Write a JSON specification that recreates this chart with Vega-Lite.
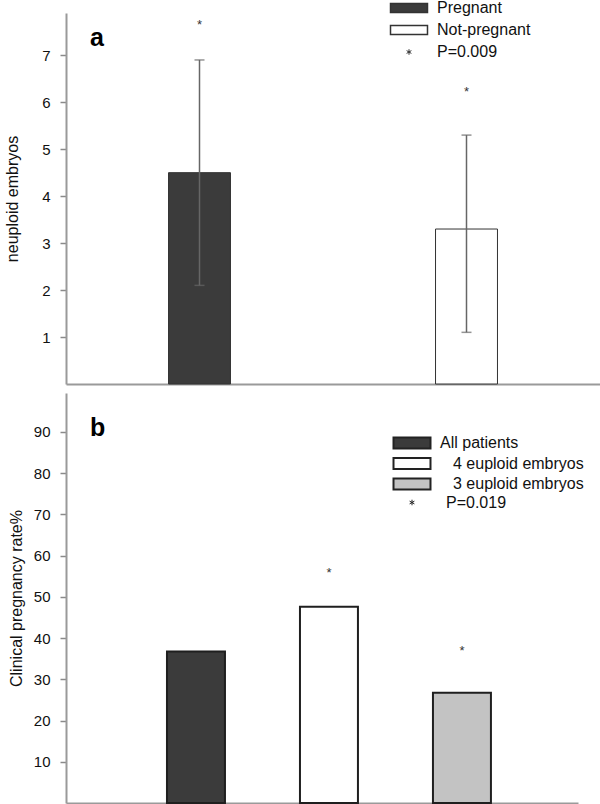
{
  "$schema": "https://vega.github.io/schema/vega-lite/v6.json",
  "padding": {"left": 4, "top": 0, "right": 0, "bottom": 0},
  "config": {
    "font": "Liberation Sans",
    "view": {"stroke": null},
    "axis": {"domainColor": "#9a9a9a", "domainWidth": 2, "tickColor": "#8a8a8a", "tickSize": 6, "tickWidth": 1.5, "labelFontSize": 15, "labelColor": "#111111", "labelPadding": 10, "titleFontSize": 16, "titleFontWeight": "normal", "titleColor": "#111111", "grid": false},
    "legend": {"title": null, "padding": 0, "labelFontSize": 16, "labelColor": "#111111", "labelOffset": 20, "symbolSize": 342, "symbolStrokeColor": "#333333", "symbolStrokeWidth": 1.5, "rowPadding": 6, "orient": "none"}
  },
  "columns": 1,
  "spacing": 8,
  "resolve": {"scale": {"fill": "independent", "x": "independent", "y": "independent"}, "legend": {"fill": "independent"}},
  "concat": [
    {
      "width": 534,
      "height": 371,
      "data": {"values": [
        {"group": "Pregnant", "value": 4.5, "lo": 2.1, "hi": 6.9, "star": 7.64},
        {"group": "Not-pregnant", "value": 3.3, "lo": 1.1, "hi": 5.3, "star": 6.21}
      ]},
      "resolve": {"scale": {"x": "independent"}},
      "layer": [
        {
          "encoding": {
            "x": {"field": "group", "type": "nominal", "sort": ["Pregnant", "Not-pregnant"], "scale": {"paddingInner": 0.768, "paddingOuter": 0.384}, "axis": {"labels": false, "ticks": false, "title": null}}
          },
          "layer": [
            {
              "mark": {"type": "bar", "stroke": "#333333", "strokeWidth": 1},
              "encoding": {
                "y": {"field": "value", "type": "quantitative", "scale": {"domain": [0, 7.9], "nice": false}, "axis": {"values": [1, 2, 3, 4, 5, 6, 7], "title": "neuploid embryos", "titlePadding": 20.7}},
                "fill": {"field": "group", "type": "nominal", "scale": {"domain": ["Pregnant", "Not-pregnant", "P=0.009"], "range": ["#3b3b3b", "#ffffff", "#ffffff"]},
                  "legend": {"legendX": 335, "legendY": -13, "symbolType": "M-2,-0.5H2V0.5H-2Z",
                    "encode": {"symbols": {"update": {
                      "shape": {"signal": "datum.value === 'P=0.009' ? 'M0,-0.3L0,0.3M-0.26,-0.15L0.26,0.15M-0.26,0.15L0.26,-0.15' : 'M-2,-0.5H2V0.5H-2Z'"},
                      "stroke": {"value": "#333333"},
                      "strokeWidth": {"signal": "datum.value === 'P=0.009' ? 1 : 1.5"}}}}}}
              }
            },
            {
              "mark": {"type": "rule", "color": "#666666", "strokeWidth": 1.5},
              "encoding": {"y": {"field": "lo", "type": "quantitative"}, "y2": {"field": "hi"}}
            },
            {
              "mark": {"type": "tick", "color": "#666666", "thickness": 1.5, "size": 10, "orient": "horizontal"},
              "encoding": {"y": {"field": "lo", "type": "quantitative"}}
            },
            {
              "mark": {"type": "tick", "color": "#666666", "thickness": 1.5, "size": 10, "orient": "horizontal"},
              "encoding": {"y": {"field": "hi", "type": "quantitative"}}
            },
            {
              "mark": {"type": "text", "text": "*", "fontSize": 13, "color": "#333333"},
              "encoding": {"y": {"field": "star", "type": "quantitative"}}
            }
          ]
        },
        {
          "data": {"values": [{"label": "a", "pos": 0.045, "level": 7.19}]},
          "mark": {"type": "text", "fontSize": 25, "fontWeight": "bold", "align": "left", "baseline": "alphabetic", "color": "#000000"},
          "encoding": {
            "text": {"field": "label"},
            "x": {"field": "pos", "type": "quantitative", "scale": {"domain": [0, 1]}, "axis": null},
            "y": {"field": "level", "type": "quantitative"}
          }
        }
      ]
    },
    {
      "width": 512,
      "height": 410,
      "title": {"text": "b", "anchor": "start", "orient": "top", "frame": "group", "fontSize": 25, "fontWeight": "bold", "baseline": "alphabetic", "offset": -68, "dx": 24, "color": "#000000"},
      "data": {"values": [
        {"group": "All patients", "value": 36.7, "star": null},
        {"group": "4 euploid embryos", "value": 47.6, "star": 55.7},
        {"group": "3 euploid embryos", "value": 26.7, "star": 36.8}
      ]},
      "encoding": {
        "x": {"field": "group", "type": "nominal", "sort": ["All patients", "4 euploid embryos", "3 euploid embryos"], "scale": {"paddingInner": 0.564, "paddingOuter": 0.707, "align": 0.537}, "axis": {"labels": false, "ticks": false, "title": null}}
      },
      "layer": [
        {
          "mark": {"type": "bar", "stroke": "#1f1f1f", "strokeWidth": 2},
          "encoding": {
            "y": {"field": "value", "type": "quantitative", "scale": {"domain": [0, 99.4], "nice": false}, "axis": {"values": [10, 20, 30, 40, 50, 60, 70, 80, 90], "title": "Clinical pregnancy rate%", "titlePadding": 9.3}},
            "fill": {"field": "group", "type": "nominal", "scale": {"domain": ["All patients", "4 euploid embryos", "3 euploid embryos", "P=0.019"], "range": ["#3b3b3b", "#ffffff", "#c3c3c3", "#ffffff"]},
              "legend": {"legendX": 338, "legendY": 42, "rowPadding": 0.5, "symbolType": "M-2,-0.6H2V0.6H-2Z",
                "encode": {
                  "labels": {"update": {"dx": {"signal": "datum.value === 'All patients' ? 0 : (datum.value === 'P=0.019' ? 6 : 13)"}}},
                  "symbols": {"update": {
                  "shape": {"signal": "datum.value === 'P=0.019' ? 'M0,-0.3L0,0.3M-0.26,-0.15L0.26,0.15M-0.26,0.15L0.26,-0.15' : 'M-2,-0.6H2V0.6H-2Z'"},
                  "fill": {"signal": "datum.value === 'All patients' ? '#555555' : (datum.value === '3 euploid embryos' ? '#c3c3c3' : '#ffffff')"},
                  "stroke": {"value": "#222222"},
                  "strokeWidth": {"signal": "datum.value === 'P=0.019' ? 1 : 2"}}}}}}
          }
        },
        {
          "mark": {"type": "text", "text": "*", "fontSize": 13, "color": "#333333"},
          "encoding": {"y": {"field": "star", "type": "quantitative"}}
        }
      ]
    }
  ]
}
